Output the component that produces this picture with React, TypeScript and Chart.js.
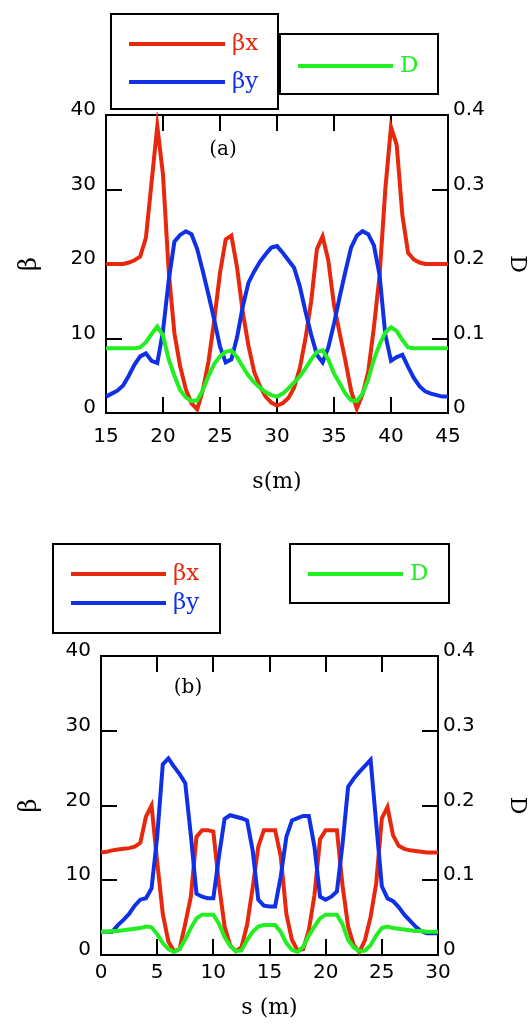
import React, { useEffect, useRef } from "react";
import { Chart, registerables } from "chart.js";

Chart.register(...registerables);

// ---------------- data: panel (a) ----------------
const sA = [
  15, 15.5, 16, 16.5, 17, 17.5, 18, 18.5, 19, 19.5,
  20, 20.5, 21, 21.5, 22, 22.5, 23, 23.5, 24, 24.5,
  25, 25.5, 26, 26.5, 27, 27.5, 28, 28.5, 29, 29.5,
  30,
  30.5, 31, 31.5, 32, 32.5, 33, 33.5, 34, 34.5, 35,
  35.5, 36, 36.5, 37, 37.5, 38, 38.5, 39, 39.5, 40,
  40.5, 41, 41.5, 42, 42.5, 43, 43.5, 44, 44.5, 45,
];
const betaXA = [
  20, 20, 20, 20, 20.2, 20.5, 21, 23.5, 31, 38.5,
  32, 19, 10.7, 6.3, 3.2, 1.3, 0.5, 3.1, 7, 12.5,
  18.8, 23.3, 23.8, 19.5, 13.5, 9, 5.5, 3.6, 2.2, 1.4,
  1.0,
  1.3, 2, 3.4, 6, 10, 15, 22, 23.7, 20.5, 14.5,
  10.7, 7, 3, 0.6, 2.5, 5.5, 11.5, 18.5, 30, 38.4,
  36, 26.5, 21.5, 20.6, 20.2, 20, 20, 20, 20, 20,
];
const betaYA = [
  2.2, 2.6, 3.0, 3.7, 5.0, 6.5, 7.6, 8.0, 7.0, 6.7,
  11.0, 17.8, 23.0, 23.9, 24.4, 24.0, 22.0, 19.0, 15.8, 12.5,
  8.9, 6.8, 7.2, 10.2, 14.3, 17.5, 19.0, 20.3, 21.3, 22.2,
  22.4,
  21.5, 20.5, 19.5, 17.0, 13.6, 10.5, 7.8, 6.8, 8.8, 12.0,
  15.6, 19.0, 22.2, 23.8, 24.4, 24.0, 22.5, 18.5, 10.5, 7.0,
  7.5, 7.8, 6.2, 4.7, 3.6, 2.9, 2.6, 2.4, 2.2, 2.2,
];
const dispA = [
  0.087, 0.087, 0.087, 0.087, 0.087, 0.087, 0.088, 0.095, 0.106, 0.116,
  0.104, 0.072, 0.05, 0.031, 0.021, 0.016, 0.017, 0.031, 0.05, 0.066,
  0.076, 0.082, 0.084, 0.075, 0.062, 0.05, 0.041, 0.034, 0.028, 0.024,
  0.022,
  0.026, 0.033, 0.041, 0.049, 0.06, 0.072, 0.082, 0.084, 0.072, 0.053,
  0.04, 0.026, 0.017, 0.016, 0.026, 0.045, 0.072, 0.092, 0.108, 0.115,
  0.11, 0.098, 0.088, 0.087, 0.087, 0.087, 0.087, 0.087, 0.087, 0.087,
];

// ---------------- data: panel (b) ----------------
const sB = [
  0, 0.5, 1, 1.5, 2, 2.5, 3, 3.5, 4, 4.5,
  5, 5.5, 6, 6.5, 7, 7.5, 8, 8.5, 9, 9.5,
  10, 10.5, 11, 11.5, 12, 12.5, 13, 13.5, 14, 14.5,
  15,
  15.5, 16, 16.5, 17, 17.5, 18, 18.5, 19, 19.5, 20,
  20.5, 21, 21.5, 22, 22.5, 23, 23.5, 24, 24.5, 25,
  25.5, 26, 26.5, 27, 27.5, 28, 28.5, 29, 29.5, 30,
];
const betaXB = [
  13.7, 13.8, 14.0, 14.1, 14.2, 14.3, 14.5, 15.0, 18.5, 20.0,
  12.5, 5.5, 1.8, 0.5, 0.8, 4.2, 7.8, 15.8, 16.7, 16.7,
  16.5, 9.5, 3.8, 1.3, 0.5, 1.0, 4.0, 9.0, 14.5, 16.7,
  16.7,
  16.7, 13.2, 5.5, 2.0, 0.6, 0.8, 3.3, 8.0, 15.5, 16.7,
  16.7, 16.7, 9.3, 3.8, 1.3, 0.4, 2.0, 5.1, 9.6, 18.3,
  19.8, 16.0, 14.6, 14.2, 14.0, 13.9, 13.8, 13.7, 13.7, 13.7,
];
const betaYB = [
  3.1, 3.1, 3.1, 4.0, 4.7, 5.5, 6.6, 7.4, 7.6, 8.9,
  15.8, 25.5, 26.3, 25.2, 24.2, 23.0, 16.0, 8.2, 7.8, 7.6,
  7.6, 13.2, 18.2, 18.7, 18.5, 18.3, 18.0, 14.0, 7.4, 6.6,
  6.5,
  6.5, 10.5, 15.8, 18.0, 18.3, 18.6, 18.6, 14.5, 7.8, 7.4,
  7.8, 8.5, 14.8, 22.5, 23.6, 24.5, 25.3, 26.1, 17.6, 9.2,
  7.6, 7.2, 6.4, 5.4, 4.6, 3.8, 3.2, 2.9, 2.9, 2.9,
];
const dispB = [
  0.031, 0.031, 0.032, 0.032, 0.033, 0.034, 0.035, 0.036, 0.038, 0.037,
  0.028, 0.016, 0.008, 0.004, 0.008, 0.021, 0.036, 0.049, 0.054, 0.054,
  0.054, 0.042, 0.024, 0.012, 0.005, 0.006, 0.02, 0.031, 0.038, 0.04,
  0.04,
  0.04, 0.031, 0.016, 0.007, 0.004, 0.011, 0.026, 0.038, 0.049, 0.054,
  0.054, 0.054, 0.041, 0.02, 0.01, 0.005, 0.006, 0.013, 0.026, 0.036,
  0.038, 0.036, 0.035, 0.034, 0.033, 0.032, 0.032, 0.031, 0.031, 0.031,
];

// ---------------- axes / labels ----------------
const xRangeA = [15, 45];
const xRangeB = [0, 30];
const xTickStep = 5;
const betaRange = [0, 40];
const betaTickStep = 10;
const dispRange = [0, 0.4];
const dispTickStep = 0.1;
const seriesLabels = ["βx", "βy", "D"];
const seriesColors = ["#e8280c", "#1030e6", "#22ee22"];
const titlesA = { x: "s(m)", left: "β", right: "D" };
const titlesB = { x: "s (m)", left: "β", right: "D" };
const notes = ["(a)", "(b)"];

// ---------------- layout ----------------
const W = 532;
const SANS = "'DejaVu Sans', sans-serif";
const SERIF = "'DejaVu Serif', serif";

const layoutA = {
  top: 0,
  height: 500,
  plotLeft: 106,
  plotRight: 448,
  plotTop: 115,
  plotBottom: 413,
  xTickPad: 12,
  xTitlePad: 7,
  note: { x: 223, y: 150 },
  legend: [
    {
      x: 111, y: 14, w: 167, h: 95,
      items: [
        { ds: 0, x1: 129, x2: 225, y: 44 },
        { ds: 1, x1: 129, x2: 225, y: 82 },
      ],
    },
    {
      x: 280, y: 34, w: 158, h: 60,
      items: [{ ds: 2, x1: 298, x2: 393, y: 66 }],
    },
  ],
};

const layoutB = {
  top: 510,
  height: 515,
  plotLeft: 101,
  plotRight: 438,
  plotTop: 146,
  plotBottom: 445,
  xTickPad: 6,
  xTitlePad: 6,
  note: { x: 188, y: 178 },
  legend: [
    {
      x: 53, y: 34, w: 167, h: 89,
      items: [
        { ds: 0, x1: 71, x2: 166, y: 64 },
        { ds: 1, x1: 71, x2: 166, y: 93 },
      ],
    },
    {
      x: 290, y: 34, w: 159, h: 59,
      items: [{ ds: 2, x1: 308, x2: 403, y: 64 }],
    },
  ],
};

const framePlugin = {
  id: "frameTicks",
  beforeDatasetsDraw(chart: any) {
    const { ctx, chartArea: a, scales } = chart;
    const L = 16;
    ctx.save();
    ctx.strokeStyle = "#000";
    ctx.lineWidth = 2;
    ctx.strokeRect(a.left, a.top, a.right - a.left, a.bottom - a.top);
    ctx.beginPath();
    scales.x.ticks.forEach((t: any) => {
      const px = Math.round(scales.x.getPixelForValue(t.value));
      ctx.moveTo(px, a.bottom);
      ctx.lineTo(px, a.bottom - L);
      ctx.moveTo(px, a.top);
      ctx.lineTo(px, a.top + L);
    });
    scales.y.ticks.forEach((t: any) => {
      const py = Math.round(scales.y.getPixelForValue(t.value));
      ctx.moveTo(a.left, py);
      ctx.lineTo(a.left + L, py);
      ctx.moveTo(a.right, py);
      ctx.lineTo(a.right - L, py);
    });
    ctx.stroke();
    ctx.restore();
  },
};

function legendPlugin(boxes: any[]) {
  return {
    id: "boxLegend",
    afterDraw(chart: any) {
      const ctx = chart.ctx;
      ctx.save();
      boxes.forEach((b) => {
        ctx.strokeStyle = "#000";
        ctx.lineWidth = 2;
        ctx.strokeRect(b.x, b.y, b.w, b.h);
        b.items.forEach((it: any) => {
          const ds = chart.data.datasets[it.ds];
          ctx.strokeStyle = ds.borderColor;
          ctx.lineWidth = 4;
          ctx.beginPath();
          ctx.moveTo(it.x1, it.y);
          ctx.lineTo(it.x2, it.y);
          ctx.stroke();
          ctx.fillStyle = ds.borderColor;
          ctx.font = `23px ${SERIF}`;
          ctx.textAlign = "left";
          ctx.textBaseline = "middle";
          ctx.fillText(ds.label, it.x2 + 7, it.y);
        });
      });
      ctx.restore();
    },
  };
}

function notePlugin(text: string, pos: { x: number; y: number }) {
  return {
    id: "panelNote",
    afterDraw(chart: any) {
      const ctx = chart.ctx;
      ctx.save();
      ctx.fillStyle = "#000";
      ctx.font = `20px ${SERIF}`;
      ctx.textAlign = "center";
      ctx.textBaseline = "middle";
      ctx.fillText(text, pos.x, pos.y);
      ctx.restore();
    },
  };
}

function buildConfig(
  s: number[], bx: number[], by: number[], d: number[],
  xRange: number[], titles: any, note: string, L: any
): any {
  const series = [bx, by, d];
  const orders = [2, 1, 0];
  const datasets = series.map((vals, k) => ({
    label: seriesLabels[k],
    data: s.map((x, i) => ({ x, y: vals[i] })),
    yAxisID: k === 2 ? "y1" : "y",
    borderColor: seriesColors[k],
    backgroundColor: seriesColors[k],
    borderWidth: 4,
    pointRadius: 0,
    tension: 0,
    fill: false,
    order: orders[k],
    clip: 3,
  }));
  const tickFont = { family: SANS, size: 20 };
  return {
    type: "line",
    data: { datasets },
    options: {
      responsive: false,
      animation: false,
      devicePixelRatio: 1,
      events: [],
      layout: { padding: { top: L.plotTop, left: 0, right: 0, bottom: 0 } },
      plugins: {
        legend: { display: false },
        tooltip: { enabled: false },
      },
      scales: {
        x: {
          type: "linear",
          position: "bottom",
          min: xRange[0],
          max: xRange[1],
          ticks: {
            stepSize: xTickStep,
            font: tickFont,
            color: "#000",
            padding: L.xTickPad,
            maxRotation: 0,
            autoSkip: false,
          },
          grid: { display: false, drawTicks: false },
          border: { display: false },
          title: {
            display: true,
            text: titles.x,
            color: "#000",
            font: { family: SERIF, size: 22, lineHeight: 1 },
            padding: { top: 0, bottom: L.xTitlePad },
          },
          afterFit: (sc: any) => {
            sc.height = L.height - L.plotBottom;
          },
        },
        y: {
          type: "linear",
          position: "left",
          min: betaRange[0],
          max: betaRange[1],
          ticks: {
            stepSize: betaTickStep,
            font: tickFont,
            color: "#000",
            padding: 10,
            labelOffset: -5,
          },
          grid: { display: false, drawTicks: false },
          border: { display: false },
          title: {
            display: true,
            text: titles.left,
            color: "#000",
            font: { family: SERIF, size: 24, lineHeight: 1 },
            padding: { top: 18, bottom: 0 },
          },
          afterFit: (sc: any) => {
            sc.width = L.plotLeft;
          },
        },
        y1: {
          type: "linear",
          position: "right",
          min: dispRange[0],
          max: dispRange[1],
          ticks: {
            stepSize: dispTickStep,
            font: tickFont,
            color: "#000",
            padding: 5,
            labelOffset: -5,
          },
          grid: { display: false, drawTicks: false },
          border: { display: false },
          title: {
            display: true,
            text: titles.right,
            color: "#000",
            font: { family: SERIF, size: 22, lineHeight: 1 },
            padding: { top: 4, bottom: 0 },
          },
          afterFit: (sc: any) => {
            sc.width = W - L.plotRight;
          },
        },
      },
    },
    plugins: [framePlugin, legendPlugin(L.legend), notePlugin(note, L.note)],
  };
}

function Panel(props: {
  s: number[]; bx: number[]; by: number[]; d: number[];
  xRange: number[]; titles: any; note: string; L: any;
}) {
  const ref = useRef<HTMLCanvasElement | null>(null);
  const { s, bx, by, d, xRange, titles, note, L } = props;
  useEffect(() => {
    if (!ref.current) return;
    const chart = new Chart(ref.current, buildConfig(s, bx, by, d, xRange, titles, note, L));
    return () => chart.destroy();
  }, []);
  return (
    <canvas
      ref={ref}
      width={W}
      height={L.height}
      style={{ position: "absolute", left: 0, top: L.top, width: W, height: L.height, display: "block" }}
    />
  );
}

export default function App() {
  return (
    <div style={{ position: "absolute", left: 0, top: 0, width: W, height: 1025, background: "#fff", overflow: "hidden" }}>
      <Panel s={sA} bx={betaXA} by={betaYA} d={dispA} xRange={xRangeA} titles={titlesA} note={notes[0]} L={layoutA} />
      <Panel s={sB} bx={betaXB} by={betaYB} d={dispB} xRange={xRangeB} titles={titlesB} note={notes[1]} L={layoutB} />
    </div>
  );
}
